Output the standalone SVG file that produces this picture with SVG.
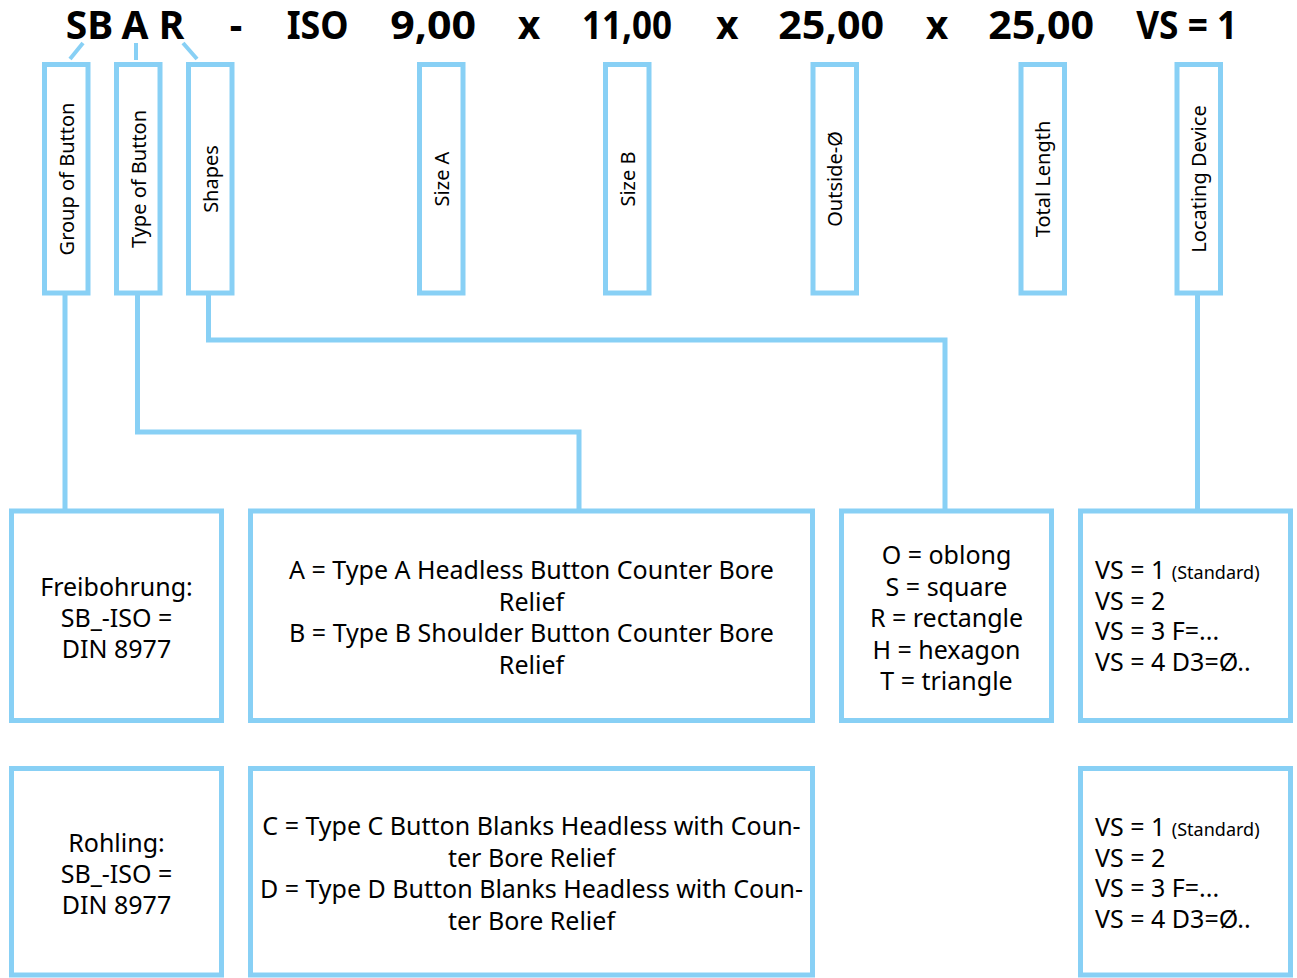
<svg xmlns="http://www.w3.org/2000/svg" width="1297" height="978" viewBox="0 0 1297 978">
<style>
.bx{fill:#fff;stroke:#88d0f5;stroke-width:5}
.cn{fill:none;stroke:#88d0f5;stroke-width:5;stroke-linejoin:miter;stroke-linecap:butt}
.tk{fill:none;stroke:#88d0f5;stroke-width:4}
.hd{font-family:"Noto Sans","Liberation Sans",sans-serif;font-weight:700;font-size:39px;fill:#000;text-anchor:middle}
.vt{font-family:"Noto Sans","Liberation Sans",sans-serif;font-size:20px;fill:#000;text-anchor:middle}
.t{font-family:"Noto Sans","Liberation Sans",sans-serif;font-size:25px;fill:#000;text-anchor:middle}
.tl{font-family:"Noto Sans","Liberation Sans",sans-serif;font-size:25px;fill:#000}
.sm{font-size:18px}
</style>
<rect width="1297" height="978" fill="#fff"/>
<g id="header">
<text class="hd" x="89.5" y="39">SB</text>
<text class="hd" x="135" y="39">A</text>
<text class="hd" x="171.5" y="39">R</text>
<text class="hd" x="236" y="39">-</text>
<text class="hd" x="317.7" y="39" textLength="62" lengthAdjust="spacingAndGlyphs">ISO</text>
<text class="hd" x="433.2" y="39" textLength="86" lengthAdjust="spacingAndGlyphs">9,00</text>
<text class="hd" x="529" y="39">x</text>
<text class="hd" x="627" y="39" textLength="90" lengthAdjust="spacingAndGlyphs">11,00</text>
<text class="hd" x="727.3" y="39">x</text>
<text class="hd" x="831.2" y="39" textLength="106" lengthAdjust="spacingAndGlyphs">25,00</text>
<text class="hd" x="937" y="39">x</text>
<text class="hd" x="1041.2" y="39" textLength="106" lengthAdjust="spacingAndGlyphs">25,00</text>
<text class="hd" x="1186.7" y="39" textLength="101" lengthAdjust="spacingAndGlyphs">VS = 1</text>
</g>
<g id="connectors">
<path class="tk" d="M70 59 L83 43"/>
<path class="tk" d="M136 60 V43"/>
<path class="tk" d="M183 43 L197 59"/>
<path class="cn" d="M65 295 V509"/>
<path class="cn" d="M137.5 295 V432 H579 V509"/>
<path class="cn" d="M208.5 295 V340 H945 V509"/>
<path class="cn" d="M1197.5 295 V509"/>
</g>
<g id="group-of-button"><rect class="bx" x="44.5" y="64.5" width="43.5" height="228.5"/><text class="vt" transform="translate(73.5,179) rotate(-90)">Group of Button</text></g>
<g id="type-of-button"><rect class="bx" x="116.5" y="64.5" width="43.5" height="228.5"/><text class="vt" transform="translate(145.5,179) rotate(-90)">Type of Button</text></g>
<g id="shapes"><rect class="bx" x="188.5" y="64.5" width="43.5" height="228.5"/><text class="vt" transform="translate(217.5,179) rotate(-90)">Shapes</text></g>
<g id="size-a"><rect class="bx" x="419.5" y="64.5" width="43.5" height="228.5"/><text class="vt" transform="translate(448.5,179) rotate(-90)">Size A</text></g>
<g id="size-b"><rect class="bx" x="605.5" y="64.5" width="43.5" height="228.5"/><text class="vt" transform="translate(634.5,179) rotate(-90)">Size B</text></g>
<g id="outside"><rect class="bx" x="813" y="64.5" width="43.5" height="228.5"/><text class="vt" transform="translate(842,179) rotate(-90)">Outside-Ø</text></g>
<g id="total-length"><rect class="bx" x="1021" y="64.5" width="43.5" height="228.5"/><text class="vt" transform="translate(1050,179) rotate(-90)">Total Length</text></g>
<g id="locating-device"><rect class="bx" x="1177" y="64.5" width="43.5" height="228.5"/><text class="vt" transform="translate(1206,179) rotate(-90)">Locating Device</text></g>

<g id="freibohrung"><rect class="bx" x="11.5" y="511" width="210" height="209.5"/>
<text class="t" x="116.5" y="596">Freibohrung:</text>
<text class="t" x="116.5" y="627">SB_-ISO =</text>
<text class="t" x="116.5" y="658">DIN 8977</text></g>
<g id="type-ab"><rect class="bx" x="250.5" y="511" width="562" height="209.5"/>
<text class="t" x="531.5" y="579">A = Type A Headless Button Counter Bore</text>
<text class="t" x="531.5" y="610.5">Relief</text>
<text class="t" x="531.5" y="642">B = Type B Shoulder Button Counter Bore</text>
<text class="t" x="531.5" y="673.5">Relief</text></g>
<g id="shape-codes"><rect class="bx" x="841.5" y="511" width="210" height="209.5"/>
<text class="t" x="946.5" y="564">O = oblong</text>
<text class="t" x="946.5" y="595.5">S = square</text>
<text class="t" x="946.5" y="627">R = rectangle</text>
<text class="t" x="946.5" y="658.5">H = hexagon</text>
<text class="t" x="946.5" y="690">T = triangle</text></g>
<g id="vs-codes-1"><rect class="bx" x="1080.5" y="511" width="210" height="209.5"/>
<text class="tl" x="1095" y="579">VS = 1 <tspan class="sm">(Standard)</tspan></text>
<text class="tl" x="1095" y="609.5">VS = 2</text>
<text class="tl" x="1095" y="640">VS = 3 F=...</text>
<text class="tl" x="1095" y="670.5">VS = 4 D3=Ø..</text></g>

<g id="rohling"><rect class="bx" x="11.5" y="768.5" width="210" height="206.5"/>
<text class="t" x="116.5" y="852">Rohling:</text>
<text class="t" x="116.5" y="883">SB_-ISO =</text>
<text class="t" x="116.5" y="914">DIN 8977</text></g>
<g id="type-cd"><rect class="bx" x="250.5" y="768.5" width="562" height="206.5"/>
<text class="t" x="531.5" y="835">C = Type C Button Blanks Headless with Coun-</text>
<text class="t" x="531.5" y="866.5">ter Bore Relief</text>
<text class="t" x="531.5" y="898">D = Type D Button Blanks Headless with Coun-</text>
<text class="t" x="531.5" y="929.5">ter Bore Relief</text></g>
<g id="vs-codes-2"><rect class="bx" x="1080.5" y="768.5" width="210" height="206.5"/>
<text class="tl" x="1095" y="836">VS = 1 <tspan class="sm">(Standard)</tspan></text>
<text class="tl" x="1095" y="866.5">VS = 2</text>
<text class="tl" x="1095" y="897">VS = 3 F=...</text>
<text class="tl" x="1095" y="927.5">VS = 4 D3=Ø..</text></g>
</svg>
